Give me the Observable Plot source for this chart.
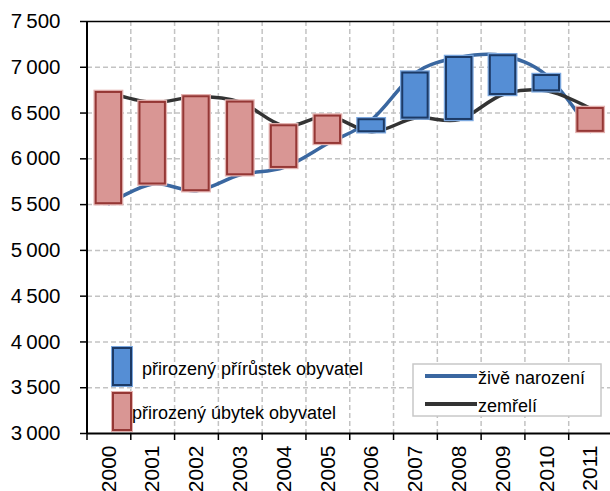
<!DOCTYPE html>
<html><head><meta charset="utf-8">
<script src="https://cdn.jsdelivr.net/npm/d3@7"></script>
<script src="https://cdn.jsdelivr.net/npm/@observablehq/plot@0.6"></script>
<style>
body{margin:0;background:#fff}
#chart{position:relative;width:610px;height:491px;overflow:hidden}
</style>
</head><body><div id="chart"></div><script>
// ---- data ----
const years  = [2000, 2001, 2002, 2003, 2004, 2005, 2006, 2007, 2008, 2009, 2010, 2011];
const births = [5510, 5725, 5652, 5826, 5906, 6168, 6427, 6937, 7107, 7126, 6910, 6300];
const deaths = [6725, 6616, 6678, 6620, 6361, 6467, 6296, 6445, 6430, 6703, 6743, 6550];
const yTicks = [3000, 3500, 4000, 4500, 5000, 5500, 6000, 6500, 7000, 7500];
const lineNames = ["živě narození", "zemřelí"];
const barNames  = ["přirozený přírůstek obyvatel", "přirozený úbytek obyvatel"];

// ---- styles ----
const BLUE_FILL = "#558ed5", BLUE_STROKE = "#1c3a66", BLUE_OUT = "#7aa7df";
const RED_FILL = "#d99694", RED_STROKE = "#953735", RED_OUT = "#e3b2b0";
const BLUE_LINE = "#3a67a0", BLACK_LINE = "#333333";
const GRID = "#c3c3c3";
const FONT = "'Liberation Sans', Arial, sans-serif";

const rows = years.map((year, i) => ({year, births: births[i], deaths: deaths[i], gain: births[i] >= deaths[i]}));
const bounds = [years[0] - 0.5, ...years.map(y => y + 0.5)];
const halfBar = 0.29;
const fmt = v => d3.format(",")(v).replace(",", "\u2009");

const barMarks = (filter, fill, stroke, outer) => [
  Plot.rect(rows, {filter, x1: d => d.year - halfBar, x2: d => d.year + halfBar, y1: "births", y2: "deaths",
    fill: "none", stroke: outer, strokeWidth: 4.5}),
  Plot.rect(rows, {filter, x1: d => d.year - halfBar, x2: d => d.year + halfBar, y1: "births", y2: "deaths",
    fill, stroke, strokeWidth: 2})
];

const chart = Plot.plot({
  width: 610, height: 491,
  marginTop: 21, marginBottom: 58, marginLeft: 87, marginRight: 0,
  style: {fontFamily: FONT, background: "white", color: "#000"},
  x: {domain: [bounds[0], bounds[bounds.length - 1]], range: [86.5, 612], label: null},
  y: {domain: [yTicks[0], yTicks[yTicks.length - 1]], label: null},
  marks: [
    Plot.ruleY(yTicks.slice(1, -1), {stroke: GRID, strokeWidth: 1.5, strokeDasharray: "5,3"}),
    Plot.ruleX(bounds.slice(1), {stroke: GRID, strokeWidth: 1.5, strokeDasharray: "5,3"}),
    Plot.ruleY(yTicks.slice(-1), {stroke: "#000", strokeWidth: 1.5}),
    Plot.lineY(rows, {x: "year", y: "births", curve: "cardinal", stroke: BLUE_LINE, strokeWidth: 3.5}),
    Plot.lineY(rows, {x: "year", y: "deaths", curve: "cardinal", stroke: BLACK_LINE, strokeWidth: 3.5}),
    ...barMarks(d => d.gain, BLUE_FILL, BLUE_STROKE, BLUE_OUT),
    ...barMarks(d => !d.gain, RED_FILL, RED_STROKE, RED_OUT),
    Plot.axisY({ticks: yTicks, tickFormat: fmt, tickSize: 7, tickPadding: 20, fontSize: 20.5, stroke: "#000", strokeWidth: 1.5, label: null}),
    Plot.axisX({ticks: bounds, tickFormat: () => "", tickSize: 7, stroke: "#000", strokeWidth: 1.5, label: null}),
    Plot.axisX({ticks: years, tickFormat: d => String(d), tickSize: 0, tickRotate: -90, tickPadding: 12, fontSize: 21, label: null}),
    Plot.ruleX(bounds.slice(0, 1), {stroke: "#000", strokeWidth: 2}),
    Plot.ruleY(yTicks.slice(0, 1), {stroke: "#000", strokeWidth: 2})
  ]
});
document.getElementById("chart").appendChild(chart);

// ---- legends (inside plot area) ----
const svg = d3.select(chart);
const lg = svg.append("g").attr("font-family", FONT).attr("font-size", 18).attr("fill", "#000").attr("text-anchor", "start");
// bar legend
[[BLUE_FILL, BLUE_STROKE, BLUE_OUT, 348, 142, 375], [RED_FILL, RED_STROKE, RED_OUT, 393, 132, 419]].forEach(([f, s, o, y, tx, ty], i) => {
  lg.append("rect").attr("x", 113).attr("y", y).attr("width", 18).attr("height", 37)
    .attr("fill", "none").attr("stroke", o).attr("stroke-width", 4);
  lg.append("rect").attr("x", 113).attr("y", y).attr("width", 18).attr("height", 37)
    .attr("fill", f).attr("stroke", s).attr("stroke-width", 2);
  lg.append("text").attr("x", tx).attr("y", ty).attr("text-anchor", "start").text(barNames[i]);
});
// line legend
lg.append("rect").attr("x", 413).attr("y", 364).attr("width", 188).attr("height", 52)
  .attr("fill", "white").attr("stroke", "#c8c8c8").attr("stroke-width", 1.5);
[[BLUE_LINE, 376, 384], [BLACK_LINE, 404, 412]].forEach(([c, y, ty], i) => {
  lg.append("line").attr("x1", 425).attr("x2", 477).attr("y1", y).attr("y2", y)
    .attr("stroke", c).attr("stroke-width", 4);
  lg.append("text").attr("x", 478).attr("y", ty).attr("text-anchor", "start").text(lineNames[i]);
});
</script></body></html>
